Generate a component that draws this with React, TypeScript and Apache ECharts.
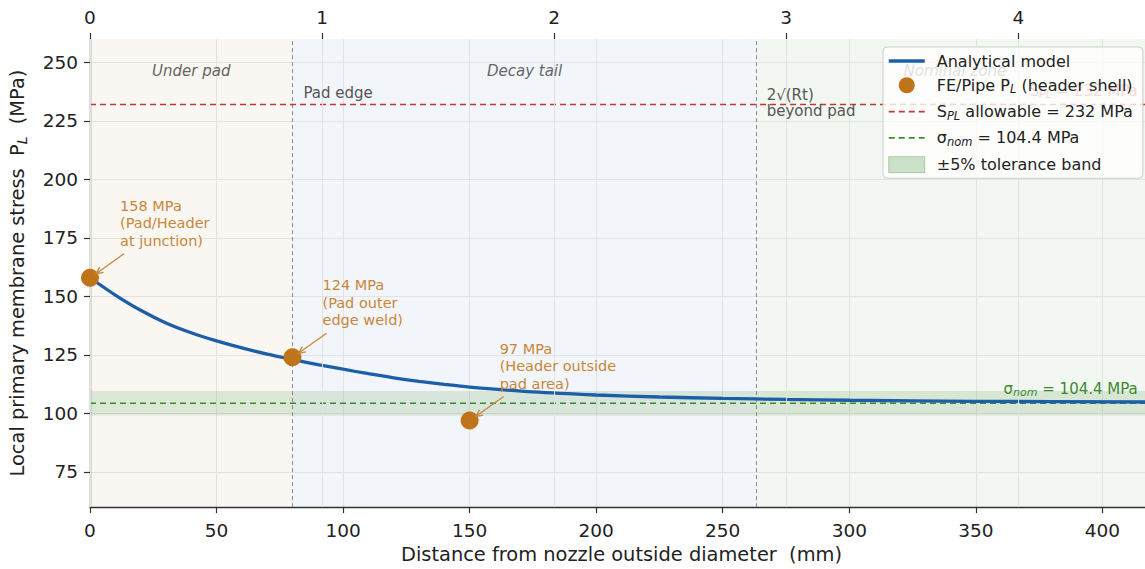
import React, { useEffect, useRef } from "react";
import * as echarts from "echarts";

// ---- data ----
const X_MIN = 0;
const X_MAX = 420;
const Y_MIN = 60;
const Y_MAX = 260;
const X_TICK_STEP = 50;
const Y_TICKS = [75, 100, 125, 150, 175, 200, 225, 250];
const SQRT_RT = 91.7; // mm, unit of the top axis
const PAD_EDGE = 80;
const DECAY_END = 263.4; // pad edge + 2*sqrt(Rt)
const S_PL = 232;
const SIGMA_NOM = 104.4;
const TOL = 0.05;

const MODEL_X = [0, 10, 20, 30, 40, 50, 60, 70, 80, 90, 100, 110, 120, 130, 140, 150, 175, 200, 225, 250, 275, 300, 350, 420];
const MODEL_Y = [158, 150.6, 144.1, 138.7, 134.5, 131.0, 128.0, 125.4, 123.1, 120.9, 118.9, 117.0, 115.25, 113.75, 112.45, 111.3, 109.2, 107.9, 107.05, 106.45, 106.0, 105.65, 105.2, 104.9];

const FE_X = [0, 80, 150];
const FE_Y = [158, 124, 97];
const FE_NOTES = [
  "158 MPa\n(Pad/Header\nat junction)",
  "124 MPa\n(Pad outer\nedge weld)",
  "97 MPa\n(Header outside\npad area)",
];

const ZONE_BOUNDS = [
  [X_MIN, PAD_EDGE],
  [PAD_EDGE, DECAY_END],
  [DECAY_END, X_MAX],
];
const ZONE_NAMES = ["Under pad", "Decay tail", "Nominal zone"];
const ZONE_COLORS = ["#faf7f2", "#f2f5fa", "#f2f7f1"];
const ZONE_LABEL_Y = 246.5;

const N_MODEL = "Analytical model";
const N_FE = "FE/Pipe PL (header shell)";
const N_SPL = "SPL allowable = 232 MPa";
const N_NOM = "σnom = 104.4 MPa";
const N_BAND = "±5% tolerance band";

const FONT = '"DejaVu Sans", "Noto Sans", sans-serif';
const C_BLUE = "#1b5fa8";
const C_ORANGE = "#bf741a";
const C_NOTE = "#c8873a";
const C_RED = "#c0393b";
const C_GREEN = "#3b8a2e";
const C_GRID = "#e2e2e2";
const C_AXIS = "#333333";

const CHART_W = 1153;
const CHART_H = 569;

const LEGEND_LABELS: Record<string, string> = {
  [N_MODEL]: "{g|}{t|Analytical model}",
  [N_FE]: "{g|}{t|FE/Pipe P}{s|L}{t| (header shell)}",
  [N_SPL]: "{g|}{t|S}{s|PL}{t| allowable = 232 MPa}",
  [N_NOM]: "{g|}{t|σ}{s|nom}{t| = 104.4 MPa}",
  [N_BAND]: "{g|}{t|±5% tolerance band}",
};

function buildOption(): any {
  const bandLo = SIGMA_NOM * (1 - TOL);
  const bandHi = SIGMA_NOM * (1 + TOL);
  return {
    animation: false,
    backgroundColor: "#ffffff",
    textStyle: { fontFamily: FONT },
    grid: { left: 90, top: 39, right: 0, bottom: 59, containLabel: false },
    legend: {
      z: 10,
      left: 883,
      top: 47,
      orient: "vertical",
      padding: [6, 10, 5, 4],
      itemGap: 8.3,
      itemWidth: 36,
      itemHeight: 16,
      backgroundColor: "rgba(255,255,255,0.8)",
      borderColor: "#cccccc",
      borderWidth: 1,
      borderRadius: 4,
      selectedMode: false,
      formatter: (name: string) => LEGEND_LABELS[name] || name,
      textStyle: {
        rich: {
          g: { width: 7 },
          t: { fontSize: 16, fontFamily: FONT, color: "#222222", lineHeight: 20 },
          s: { fontSize: 11.5, fontFamily: FONT, fontStyle: "italic", color: "#222222", lineHeight: 11, verticalAlign: "bottom" },
        },
      },
      data: [
        { name: N_MODEL, lineStyle: { width: 3.5 }, itemStyle: { opacity: 0 } },
        { name: N_FE, icon: "circle", itemStyle: { color: C_ORANGE, opacity: 1 } },
        { name: N_SPL, lineStyle: { width: 1.8 }, itemStyle: { opacity: 0 } },
        { name: N_NOM, lineStyle: { width: 1.8 }, itemStyle: { opacity: 0 } },
        {
          name: N_BAND,
          icon: "rect",
          itemStyle: { color: "rgba(60,140,50,0.25)", borderColor: "rgba(60,140,50,0.35)", borderWidth: 1 },
        },
      ],
    },
    xAxis: [
      {
        type: "value",
        position: "bottom",
        min: X_MIN,
        max: X_MAX,
        interval: X_TICK_STEP,
        z: 1,
        name: "Distance from nozzle outside diameter  (mm)",
        nameLocation: "middle",
        nameGap: 37,
        nameTextStyle: { fontSize: 19.4, fontFamily: FONT, color: "#222222" },
        axisLine: { show: true, lineStyle: { color: C_AXIS, width: 1.3 } },
        axisTick: { show: true, inside: false, length: 6, lineStyle: { color: C_AXIS, width: 1.2 } },
        axisLabel: { fontSize: 18.5, fontFamily: FONT, color: "#222222", margin: 14, showMaxLabel: false },
        splitLine: { show: true, lineStyle: { color: C_GRID, width: 1 } },
      },
      {
        type: "value",
        position: "top",
        min: 0,
        max: X_MAX / SQRT_RT,
        interval: 1,
        z: 4,
        axisLine: { show: false },
        axisTick: { show: true, inside: false, length: 6, lineStyle: { color: C_AXIS, width: 1.2 } },
        axisLabel: { fontSize: 18.5, fontFamily: FONT, color: "#222222", margin: 12, showMaxLabel: false },
        splitLine: { show: true, lineStyle: { color: C_GRID, width: 1 } },
      },
    ],
    yAxis: {
      type: "value",
      min: Y_MIN,
      max: Y_MAX,
      z: 1,
      name: "{t|Local primary membrane stress  P}{s|L}{t|  (MPa)}",
      nameLocation: "middle",
      nameGap: 61,
      nameTextStyle: {
        rich: {
          t: { fontSize: 19.4, fontFamily: FONT, color: "#222222", lineHeight: 23 },
          s: { fontSize: 14, fontFamily: FONT, fontStyle: "italic", color: "#222222", lineHeight: 12, verticalAlign: "bottom" },
        },
      },
      axisLine: { show: true, lineStyle: { color: C_AXIS, width: 1.3 } },
      axisTick: { show: true, inside: false, length: 6, customValues: Y_TICKS, lineStyle: { color: C_AXIS, width: 1.2 } },
      axisLabel: { fontSize: 18.5, fontFamily: FONT, color: "#222222", margin: 12, customValues: Y_TICKS },
      splitLine: { show: false },
    },
    series: [
      {
        name: "__zones",
        type: "line",
        data: [],
        z: 0,
        silent: true,
        markArea: {
          z: 0,
          silent: true,
          data: ZONE_BOUNDS.map((b, i) => [
            { xAxis: b[0], itemStyle: { color: ZONE_COLORS[i] } },
            { xAxis: b[1] },
          ]),
        },
      },
      {
        name: "__ygrid",
        type: "line",
        data: [],
        z: 1,
        silent: true,
        markLine: {
          z: 1,
          silent: true,
          symbol: ["none", "none"],
          label: { show: false },
          lineStyle: { color: C_GRID, width: 1, type: "solid" },
          data: Y_TICKS.map((v) => ({ yAxis: v })),
        },
      },
      {
        name: N_BAND,
        type: "line",
        data: [],
        z: 2,
        silent: true,
        itemStyle: { color: "rgba(60,140,50,0.25)" },
        markArea: {
          z: 2,
          silent: true,
          itemStyle: { color: "rgba(60,140,50,0.15)" },
          data: [[{ yAxis: bandLo }, { yAxis: bandHi }]],
        },
      },
      {
        name: "__vlines",
        type: "line",
        data: [],
        z: 2,
        silent: true,
        markLine: {
          z: 2,
          silent: true,
          symbol: ["none", "none"],
          label: { show: false },
          lineStyle: { color: "#8a8a8a", width: 1, type: [4, 3] },
          data: [{ xAxis: PAD_EDGE }, { xAxis: DECAY_END }],
        },
      },
      {
        name: N_SPL,
        type: "line",
        z: 3,
        symbol: "none",
        silent: true,
        color: C_RED,
        lineStyle: { color: C_RED, width: 1.6, type: [6, 4] },
        data: [
          [X_MIN, S_PL],
          [X_MAX, S_PL],
        ],
      },
      {
        name: N_NOM,
        type: "line",
        z: 3,
        symbol: "none",
        silent: true,
        color: C_GREEN,
        lineStyle: { color: C_GREEN, width: 1.6, type: [6, 4] },
        data: [
          [X_MIN, SIGMA_NOM],
          [X_MAX, SIGMA_NOM],
        ],
      },
      {
        name: N_MODEL,
        type: "line",
        z: 3,
        symbol: "none",
        smooth: 0.3,
        silent: true,
        color: C_BLUE,
        lineStyle: { color: C_BLUE, width: 3.3 },
        data: MODEL_X.map((x, i) => [x, MODEL_Y[i]]),
      },
      {
        name: N_FE,
        type: "scatter",
        z: 5,
        symbol: "circle",
        symbolSize: 18,
        silent: true,
        color: C_ORANGE,
        itemStyle: { color: C_ORANGE, opacity: 1 },
        data: FE_X.map((x, i) => [x, FE_Y[i]]),
      },
    ],
  };
}

function buildGraphics(chart: any): any[] {
  const px = (x: number, y: number): number[] =>
    chart.convertToPixel({ xAxisIndex: 0, yAxisIndex: 0 }, [x, y]);
  const els: any[] = [];
  const gray = "#666666";

  // zone labels
  ZONE_BOUNDS.forEach((b, i) => {
    const p = px((b[0] + b[1]) / 2, ZONE_LABEL_Y);
    els.push({
      type: "text",
      x: p[0],
      y: p[1],
      z: 6,
      silent: true,
      style: {
        text: ZONE_NAMES[i],
        fill: gray,
        font: `italic 15px ${FONT}`,
        align: "center",
        verticalAlign: "middle",
      },
    });
  });

  // boundary labels
  const pe = px(PAD_EDGE, 240);
  els.push({
    type: "text",
    x: pe[0] + 11,
    y: pe[1],
    z: 6,
    silent: true,
    style: { text: "Pad edge", fill: "#555555", font: `15px ${FONT}`, align: "left", verticalAlign: "top" },
  });
  const de = px(DECAY_END, 240);
  els.push({
    type: "text",
    x: de[0] + 10,
    y: de[1] + 1,
    z: 6,
    silent: true,
    style: {
      text: "2√(Rt)\nbeyond pad",
      fill: "#555555",
      font: `15px ${FONT}`,
      lineHeight: 16,
      align: "left",
      verticalAlign: "top",
    },
  });

  // reference line labels (right aligned)
  const rs = px(414, S_PL);
  els.push({
    type: "text",
    x: rs[0],
    y: rs[1] - 14,
    z: 6,
    silent: true,
    style: {
      text: "{t|S}{s|PL}{t| = 232 MPa}",
      align: "right",
      verticalAlign: "middle",
      rich: {
        t: { fontSize: 15, fontFamily: FONT, fill: C_RED, lineHeight: 18 },
        s: { fontSize: 11, fontFamily: FONT, fontStyle: "italic", fill: C_RED, lineHeight: 10, verticalAlign: "bottom" },
      },
    },
  });
  const rn = px(414, SIGMA_NOM);
  els.push({
    type: "text",
    x: rn[0],
    y: rn[1] - 14,
    z: 6,
    silent: true,
    style: {
      text: "{t|σ}{s|nom}{t| = 104.4 MPa}",
      align: "right",
      verticalAlign: "middle",
      rich: {
        t: { fontSize: 15, fontFamily: FONT, fill: C_GREEN, lineHeight: 18 },
        s: { fontSize: 11, fontFamily: FONT, fontStyle: "italic", fill: C_GREEN, lineHeight: 10, verticalAlign: "bottom" },
      },
    },
  });

  // FE annotations
  FE_X.forEach((x, i) => {
    const p = px(x, FE_Y[i]);
    els.push({
      type: "text",
      x: p[0] + 30,
      y: p[1] - 72 - 8.75,
      z: 6,
      silent: true,
      style: {
        text: FE_NOTES[i],
        fill: C_NOTE,
        font: `14.5px ${FONT}`,
        lineHeight: 17.5,
        align: "left",
        verticalAlign: "top",
      },
    });
    const s = [p[0] + 34, p[1] - 24];
    const e = [p[0] + 6, p[1] - 4];
    const dx = e[0] - s[0];
    const dy = e[1] - s[1];
    const len = Math.sqrt(dx * dx + dy * dy);
    const ux = dx / len;
    const uy = dy / len;
    const nx = -uy;
    const ny = ux;
    const hl = 7;
    const hw = 3.2;
    els.push({
      type: "line",
      z: 6,
      silent: true,
      shape: { x1: s[0], y1: s[1], x2: e[0], y2: e[1] },
      style: { stroke: C_NOTE, lineWidth: 1.3 },
    });
    els.push({
      type: "polyline",
      z: 6,
      silent: true,
      shape: {
        points: [
          [e[0] - ux * hl + nx * hw, e[1] - uy * hl + ny * hw],
          [e[0], e[1]],
          [e[0] - ux * hl - nx * hw, e[1] - uy * hl - ny * hw],
        ],
      },
      style: { stroke: C_NOTE, lineWidth: 1.3, fill: "none" },
    });
  });

  return els;
}

export default function App() {
  const ref = useRef<HTMLDivElement>(null);
  useEffect(() => {
    if (!ref.current) return;
    const chart = echarts.init(ref.current, null, { renderer: "svg", width: CHART_W, height: CHART_H });
    chart.setOption(buildOption());
    chart.setOption({ graphic: { elements: buildGraphics(chart) } });
    return () => {
      chart.dispose();
    };
  }, []);
  return (
    <div
      style={{ position: "fixed", left: 0, top: 0, width: 1145, height: 569, overflow: "hidden", background: "#ffffff" }}
    >
      <div ref={ref} style={{ width: CHART_W, height: CHART_H }} />
    </div>
  );
}
